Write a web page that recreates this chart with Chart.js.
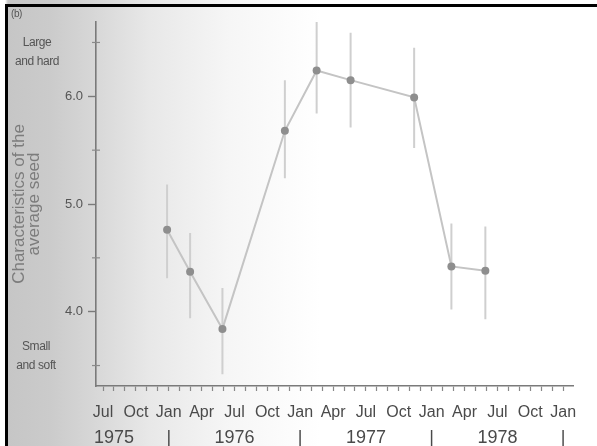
<!DOCTYPE html>
<html>
<head>
<meta charset="utf-8">
<script src="https://cdn.jsdelivr.net/npm/chart.js@4/dist/chart.umd.min.js"></script>
<style>
  html, body { margin: 0; padding: 0; background: #fff; }
  #wrap { position: relative; width: 597px; height: 446px; overflow: hidden;
    background: linear-gradient(to right, #fff 0px, #fff 5px, #c6c6c6 8px, #cbcbcb 50px, #d6d6d6 90px, #e8e8e8 150px, #f6f6f6 230px, #ffffff 320px); }
  #frame { position: absolute; left: 5px; top: 4px; right: 0; bottom: 0;
    border-left: 3px solid #000; border-top: 3px solid #000; }
  canvas { position: absolute; left: 0; top: 0; }
  .note { position: absolute; font-family: "Liberation Sans", Arial, sans-serif; color: #555;
    font-size: 12px; line-height: 19px; text-align: center; letter-spacing: -0.4px; }
</style>
</head>
<body>
<div id="wrap">
  <canvas id="c" width="597" height="446"></canvas>
  <div id="frame"></div>
  <div class="note" style="left:11px; top:8px; font-size:10px; line-height:11px; text-align:left;">(b)</div>
  <div class="note" style="left:7px; top:33px; width:60px;">Large<br>and hard</div>
  <div class="note" style="left:6px; top:337px; width:60px;">Small<br>and soft</div>
</div>
<script>
// months counted from Jul 1975 (0 = Jul 1975)
const sampleMonths = [5.85, 7.95, 10.9, 16.6, 19.5, 22.6, 28.4, 31.8, 34.9];
const meanValues   = [4.76, 4.37, 3.84, 5.68, 6.24, 6.15, 5.99, 4.42, 4.38];
const lowValues    = [4.31, 3.94, 3.42, 5.24, 5.84, 5.71, 5.52, 4.02, 3.93];
const highValues   = [5.18, 4.73, 4.22, 6.15, 6.69, 6.59, 6.45, 4.82, 4.79];

const monthNames = ['Jul', 'Oct', 'Jan', 'Apr'];
const monthTickValues = Array.from({length: 43}, (_, i) => i);
const yearTickValues = [1, 6, 12, 18, 24, 30, 36, 42];
const yearTickLabels = ['1975', '|', '1976', '|', '1977', '|', '1978', '|'];
const yMajorTicks = [4.0, 5.0, 6.0];
const yMinorTicks = [3.5, 4.5, 5.5, 6.5];

const meanPoints = sampleMonths.map((m, i) => ({x: m, y: meanValues[i]}));
const errPoints = [];
sampleMonths.forEach((m, i) => {
  errPoints.push({x: m, y: lowValues[i]});
  errPoints.push({x: m, y: highValues[i]});
  errPoints.push({x: m, y: null});
});

const minorTickPlugin = {
  id: 'minorTicks',
  afterDraw(chart) {
    const ys = chart.scales.y;
    const ctx = chart.ctx;
    ctx.save();
    ctx.strokeStyle = '#8a8a8a';
    ctx.lineWidth = 1.2;
    yMinorTicks.forEach(v => {
      const py = ys.getPixelForValue(v);
      ctx.beginPath();
      ctx.moveTo(ys.right - 4, py);
      ctx.lineTo(ys.right + 4, py);
      ctx.stroke();
    });
    ctx.restore();
  }
};

new Chart(document.getElementById('c'), {
  type: 'scatter',
  data: {
    datasets: [
      {
        data: meanPoints,
        showLine: true,
        borderColor: '#c4c4c4',
        borderWidth: 2,
        pointRadius: 4,
        pointBackgroundColor: '#8e8e8e',
        pointBorderColor: '#8e8e8e',
        pointBorderWidth: 0,
        order: 0
      },
      {
        data: errPoints,
        showLine: true,
        spanGaps: false,
        borderColor: '#cfcfcf',
        borderWidth: 2,
        pointRadius: 0,
        order: 1
      }
    ]
  },
  options: {
    responsive: false,
    animation: false,
    devicePixelRatio: 1,
    layout: { padding: { left: 12, right: 24, top: 22, bottom: 0 } },
    plugins: { legend: { display: false }, tooltip: { enabled: false } },
    scales: {
      x: {
        type: 'linear',
        position: 'bottom',
        weight: 0,
        clip: false,
        min: -0.64,
        max: 42.9,
        afterBuildTicks: s => { s.ticks = monthTickValues.map(v => ({value: v})); },
        afterFit: s => { s.height = 38; },
        grid: { drawOnChartArea: false, tickLength: 5, color: '#888', tickWidth: 1.2 },
        border: { display: true, color: '#7a7a7a', width: 1.6 },
        ticks: {
          autoSkip: false, maxRotation: 0, padding: 12,
          color: '#4a4a4a',
          font: { family: '"Liberation Sans", Arial, sans-serif', size: 16 },
          callback: v => (v % 3 === 0 ? monthNames[(v / 3) % 4] : '')
        }
      },
      x2: {
        type: 'linear',
        position: 'bottom',
        weight: 1,
        clip: false,
        min: -0.64,
        max: 42.9,
        afterBuildTicks: s => { s.ticks = yearTickValues.map(v => ({value: v})); },
        afterFit: s => { s.height = 22; },
        grid: { display: false },
        border: { display: false },
        ticks: {
          autoSkip: false, maxRotation: 0, padding: -5,
          color: '#4a4a4a',
          font: { family: '"Liberation Sans", Arial, sans-serif', size: 18 },
          callback: v => yearTickLabels[yearTickValues.indexOf(v)]
        }
      },
      y: {
        type: 'linear',
        position: 'left',
        min: 3.31,
        max: 6.69,
        afterBuildTicks: s => { s.ticks = yMajorTicks.map(v => ({value: v})); },
        afterFit: s => { s.width = 84; },
        grid: { drawOnChartArea: false, tickLength: 8, color: '#7a7a7a', tickWidth: 1.4 },
        border: { display: true, color: '#7a7a7a', width: 1.6 },
        ticks: {
          padding: 5,
          color: '#555',
          font: { family: '"Liberation Sans", Arial, sans-serif', size: 13 },
          callback: v => v.toFixed(1)
        },
        title: {
          display: true,
          text: ['Characteristics of the', 'average seed'],
          color: '#7c7c7c',
          padding: 0,
          font: { family: '"Liberation Sans", Arial, sans-serif', size: 17, lineHeight: '15px' }
        }
      }
    }
  },
  plugins: [minorTickPlugin]
});
</script>
</body>
</html>
